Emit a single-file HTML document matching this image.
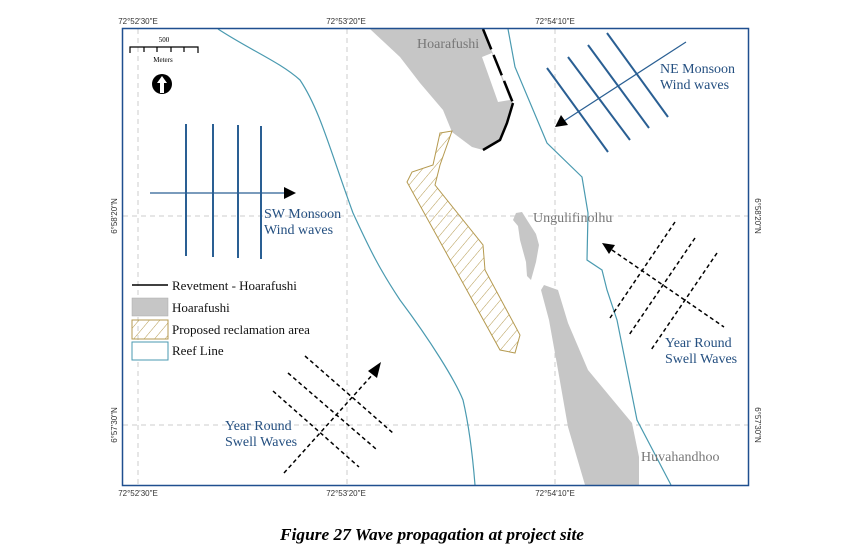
<!DOCTYPE html>
<html><head><meta charset="utf-8"><style>
html,body{margin:0;padding:0;background:#fff;}
svg{display:block;}
</style></head><body>
<svg width="864" height="557" viewBox="0 0 864 557" xmlns="http://www.w3.org/2000/svg">
<defs>
<pattern id="hat" width="8" height="8" patternUnits="userSpaceOnUse" patternTransform="rotate(40)">
<line x1="0" y1="0" x2="0" y2="8" stroke="#b59a50" stroke-width="1"/>
</pattern>
</defs>
<rect width="864" height="557" fill="#fff"/>
<g stroke="#ccc" stroke-dasharray="5,4" stroke-width="1">
<line x1="138" y1="29" x2="138" y2="485"/>
<line x1="347" y1="29" x2="347" y2="485"/>
<line x1="555" y1="29" x2="555" y2="485"/>
<line x1="123" y1="216" x2="748" y2="216"/>
<line x1="123" y1="425" x2="748" y2="425"/>
</g>
<path d="M370,29 L483,29 L513,103 L507,123 L500,140 L483,150 L472,147 L452,132 L443,110 L420,83 L400,57 Z" fill="#c6c6c6"/>
<path d="M482,57 L492,53 L510,100 L498,102 Z" fill="#fff"/>
<path d="M516,213 L522,212 L527,220 L536,234 L539,245 L536,262 L531,280 L527,276 L526,262 L520,240 L518,226 L513,220 Z" fill="#c6c6c6"/>
<path d="M544,285 L558,290 L568,323 L588,370 L632,423 L639,457 L639,485 L585,485 L568,427 L558,370 L549,320 L541,290 Z" fill="#c6c6c6"/>
<path d="M483,29 L513,103" stroke="#000" stroke-width="2.5" stroke-dasharray="22,6" fill="none"/>
<path d="M513,103 L507,123 L500,140 L483,150" stroke="#000" stroke-width="2.5" fill="none"/>
<path d="M440,133 L452,131 L440,165 L435,185 L483,245 L485,270 L520,335 L515,353 L500,350 L407,182 L412,172 L433,165 Z" fill="url(#hat)" stroke="#b59a50" stroke-width="1"/>
<path d="M218,29 C250,50 280,62 300,80 C320,110 330,150 353,213 C370,250 380,270 400,300 C430,340 455,380 463,400 C470,430 473,460 475,485" stroke="#4a9ab0" stroke-width="1.2" fill="none"/>
<path d="M508,29 L515,67 L547,143 L582,177 L588,213 L587,260 L602,270 L607,290 L617,320 L637,420 L671,485" stroke="#4a9ab0" stroke-width="1.2" fill="none"/>
<rect x="122.5" y="28.5" width="626" height="457" fill="none" stroke="#1f4f8f" stroke-width="1.5"/>
<g font-family="Liberation Sans, sans-serif" font-size="8" fill="#333" text-anchor="middle">
<text x="138" y="24">72°52'30"E</text>
<text x="346" y="24">72°53'20"E</text>
<text x="555" y="24">72°54'10"E</text>
<text x="138" y="496">72°52'30"E</text>
<text x="346" y="496">72°53'20"E</text>
<text x="555" y="496">72°54'10"E</text>
<text transform="translate(117,216) rotate(-90)">6°58'20"N</text>
<text transform="translate(117,425) rotate(-90)">6°57'30"N</text>
<text transform="translate(755,216) rotate(90)">6°58'20"N</text>
<text transform="translate(755,425) rotate(90)">6°57'30"N</text>
</g>
<g stroke="#000" stroke-width="1.2" fill="none">
<path d="M130,53 L130,47 L198,47 L198,53"/>
<line x1="144" y1="47" x2="144" y2="52"/><line x1="157" y1="47" x2="157" y2="52"/><line x1="171" y1="47" x2="171" y2="52"/><line x1="184" y1="47" x2="184" y2="52"/>
</g>
<text x="164" y="42" font-family="Liberation Serif,serif" font-size="7" text-anchor="middle">500</text>
<text x="163" y="62" font-family="Liberation Serif,serif" font-size="7" text-anchor="middle">Meters</text>
<circle cx="162" cy="84" r="10" fill="#000"/>
<path d="M162,76 L167,83 L164,83 L164,93 L160,93 L160,83 L157,83 Z" fill="#fff"/>
<g stroke="#2a5f93" stroke-width="2">
<line x1="186" y1="124" x2="186" y2="256"/><line x1="213" y1="124" x2="213" y2="257"/><line x1="238" y1="125" x2="238" y2="258"/><line x1="261" y1="126" x2="261" y2="259"/>
</g>
<line x1="150" y1="193" x2="284" y2="193" stroke="#2a5f93" stroke-width="1.2"/>
<path d="M296,193 L284,187 L284,199 Z" fill="#000"/>
<g stroke="#2a5f93" stroke-width="2">
<line x1="547" y1="68" x2="608" y2="152"/><line x1="568" y1="57" x2="630" y2="140"/><line x1="588" y1="45" x2="649" y2="128"/><line x1="607" y1="33" x2="668" y2="117"/>
</g>
<line x1="686" y1="42" x2="564" y2="121" stroke="#2a5f93" stroke-width="1.2"/>
<path d="M555,127 L561,115 L568,125 Z" fill="#000"/>
<g stroke="#000" stroke-width="1.5" stroke-dasharray="4,3">
<line x1="675" y1="222" x2="610" y2="318"/><line x1="695" y1="238" x2="629" y2="335"/><line x1="717" y1="253" x2="651" y2="350"/>
<line x1="612" y1="250" x2="724" y2="327"/>
</g>
<path d="M602,243 L615,245 L609,254 Z" fill="#000"/>
<g stroke="#000" stroke-width="1.5" stroke-dasharray="4,3">
<line x1="305" y1="356" x2="393" y2="433"/><line x1="288" y1="373" x2="376" y2="449"/><line x1="273" y1="391" x2="359" y2="467"/>
<line x1="284" y1="473" x2="374" y2="373"/>
</g>
<path d="M381,362 L377,378 L368,371 Z" fill="#000"/>
<line x1="132" y1="285" x2="168" y2="285" stroke="#000" stroke-width="1.5"/>
<rect x="132" y="298" width="36" height="18" fill="#c6c6c6" stroke="#aaa" stroke-width="0.5"/>
<rect x="132" y="320" width="36" height="19" fill="url(#hat)" stroke="#b59a50" stroke-width="1"/>
<rect x="132" y="342" width="36" height="18" fill="#fff" stroke="#4a9ab0" stroke-width="1"/>
<g font-family="Liberation Serif,serif" font-size="13" fill="#111">
<text x="172" y="290">Revetment - Hoarafushi</text>
<text x="172" y="312">Hoarafushi</text>
<text x="172" y="334">Proposed reclamation area</text>
<text x="172" y="355">Reef Line</text>
</g>
<g font-family="Liberation Serif,serif" font-size="14" fill="#777">
<text x="417" y="48">Hoarafushi</text>
<text x="533" y="222">Ungulifinolhu</text>
<text x="641" y="461">Huvahandhoo</text>
</g>
<g font-family="Liberation Serif,serif" font-size="14" fill="#244f80">
<text x="264" y="218">SW Monsoon</text><text x="264" y="234">Wind waves</text>
<text x="660" y="73">NE Monsoon</text><text x="660" y="89">Wind waves</text>
<text x="665" y="347">Year Round</text><text x="665" y="363">Swell Waves</text>
<text x="225" y="430">Year Round</text><text x="225" y="446">Swell Waves</text>
</g>
<text x="432" y="540" font-family="Liberation Serif,serif" font-size="17" font-weight="bold" font-style="italic" text-anchor="middle" textLength="304" lengthAdjust="spacingAndGlyphs">Figure 27 Wave propagation at project site</text>
</svg>
</body></html>
